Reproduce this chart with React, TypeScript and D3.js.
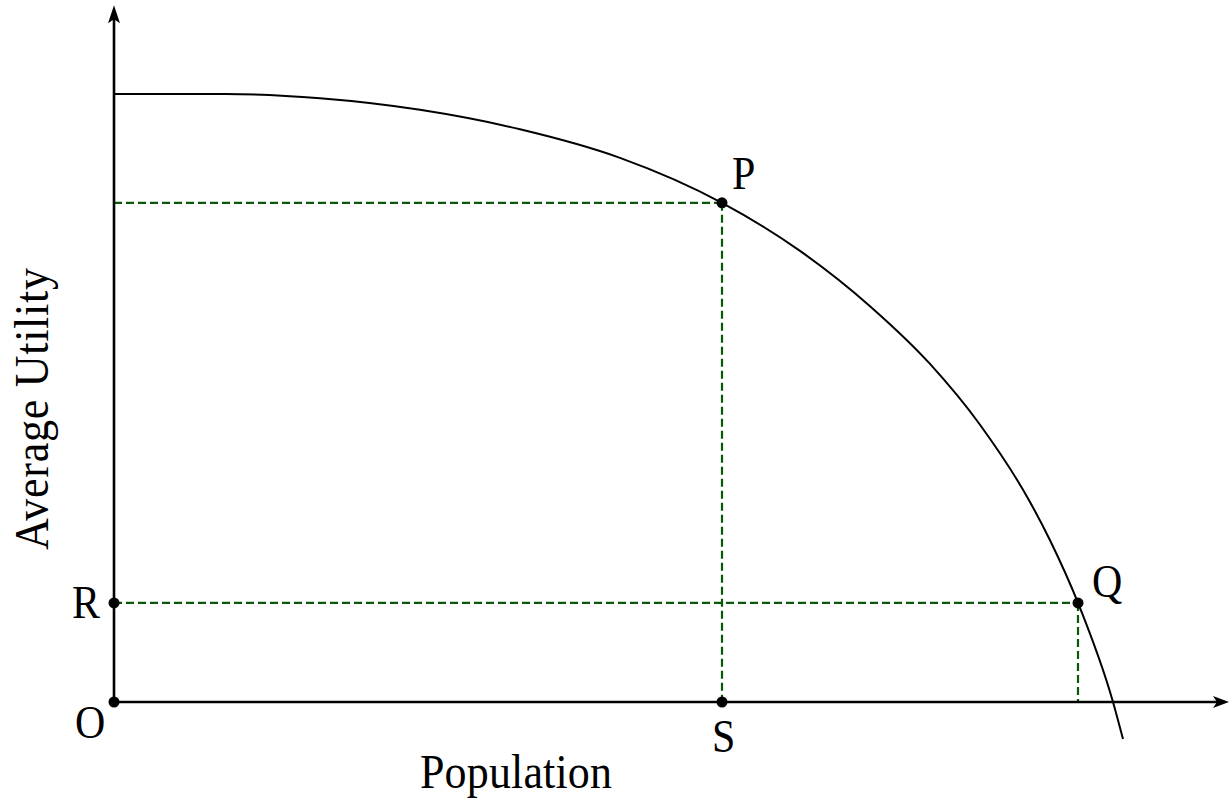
import React from 'react';
import { scaleLinear, line, curveMonotoneX } from 'd3';

// population (x) and average utility (y)
const curvePopulation = [0, 1.11, 2.06, 3.06, 4.06, 5.06, 6.08, 6.86, 7.56, 8.16, 8.66, 9.16, 9.36, 9.64, 9.99, 10.09];
const curveUtility = [10, 10, 9.93, 9.74, 9.42, 8.95, 8.21, 7.42, 6.51, 5.56, 4.56, 3.29, 2.66, 1.63, 0, -0.61];

// labelled points
const pointNames = ['P', 'Q', 'R', 'O', 'S'];
const pointPopulation = [6.08, 9.64, 0, 0, 6.08];
const pointUtility = [8.21, 1.63, 1.63, 0, 0];

const axisPopulationMax = 11.15;
const axisUtilityMax = 11.46;

const WIDTH = 1231;
const HEIGHT = 798;
const GREEN = '#085808';

function App() {
  const x = scaleLinear().domain([0, 10]).range([114, 1114]);
  const y = scaleLinear().domain([0, 10]).range([702, 94]);

  const curve = line<number>()
    .x((d, i) => x(curvePopulation[i]))
    .y((d) => y(d))
    .curve(curveMonotoneX);

  const pts = pointNames.map((name, i) => ({
    name,
    px: x(pointPopulation[i]),
    py: y(pointUtility[i]),
  }));
  const P = pts[0];
  const Q = pts[1];
  const R = pts[2];
  const S = pts[4];

  const x0 = x(0);
  const y0 = y(0);
  const xEnd = x(axisPopulationMax);
  const yEnd = y(axisUtilityMax);

  // label offsets relative to each point
  const labelPos: Record<string, [number, number]> = {
    P: [P.px + 10, P.py - 14],
    Q: [Q.px + 14, Q.py - 6],
    R: [R.px - 42, R.py + 15],
    O: [x0 - 39, y0 + 36],
    S: [S.px - 10, S.py + 50],
  };

  const font = '"Liberation Serif", "Times New Roman", serif';

  return (
    <svg
      width={WIDTH}
      height={HEIGHT}
      style={{ position: 'absolute', left: 0, top: 0, background: '#fff' }}
    >
      {/* dashed guides */}
      <g stroke={GREEN} strokeWidth={2.2} strokeDasharray="8 4" fill="none">
        <line x1={x0} y1={P.py} x2={P.px} y2={P.py} />
        <line x1={P.px} y1={P.py} x2={S.px} y2={y0} />
        <line x1={R.px} y1={Q.py} x2={Q.px} y2={Q.py} />
        <line x1={Q.px} y1={Q.py} x2={Q.px} y2={y0} />
      </g>

      {/* axes */}
      <g stroke="#000" strokeWidth={2.6}>
        <line x1={x0} y1={y0} x2={xEnd - 10} y2={y0} />
        <line x1={x0} y1={y0} x2={x0} y2={yEnd + 10} />
      </g>
      <path
        d={`M${xEnd},${y0} L${xEnd - 16},${y0 - 6} L${xEnd - 12},${y0} L${xEnd - 16},${y0 + 6} Z`}
        fill="#000"
      />
      <path
        d={`M${x0},${yEnd} L${x0 - 6},${yEnd + 18} L${x0},${yEnd + 14} L${x0 + 6},${yEnd + 18} Z`}
        fill="#000"
      />

      {/* curve */}
      <path d={curve(curveUtility) || ''} fill="none" stroke="#000" strokeWidth={2} />

      {/* points */}
      {pts.map((p) => (
        <circle key={p.name} cx={p.px} cy={p.py} r={5.5} fill="#000" />
      ))}

      {/* point labels */}
      {pts.map((p) => (
        <text
          key={'l' + p.name}
          transform={`translate(${labelPos[p.name][0]},${labelPos[p.name][1]}) scale(1,1.12)`}
          fontFamily={font}
          fontSize={42}
          fill="#000"
        >
          {p.name}
        </text>
      ))}

      {/* axis titles */}
      <text
        transform="translate(420,788) scale(1,1.1)"
        fontFamily={font}
        fontSize={44}
        textLength={192}
        fill="#000"
      >
        Population
      </text>
      <text
        transform="translate(48,550) rotate(-90) scale(1,1.12)"
        fontFamily={font}
        fontSize={44}
        textLength={282}
        fill="#000"
      >
        Average Utility
      </text>
    </svg>
  );
}

export default App;
